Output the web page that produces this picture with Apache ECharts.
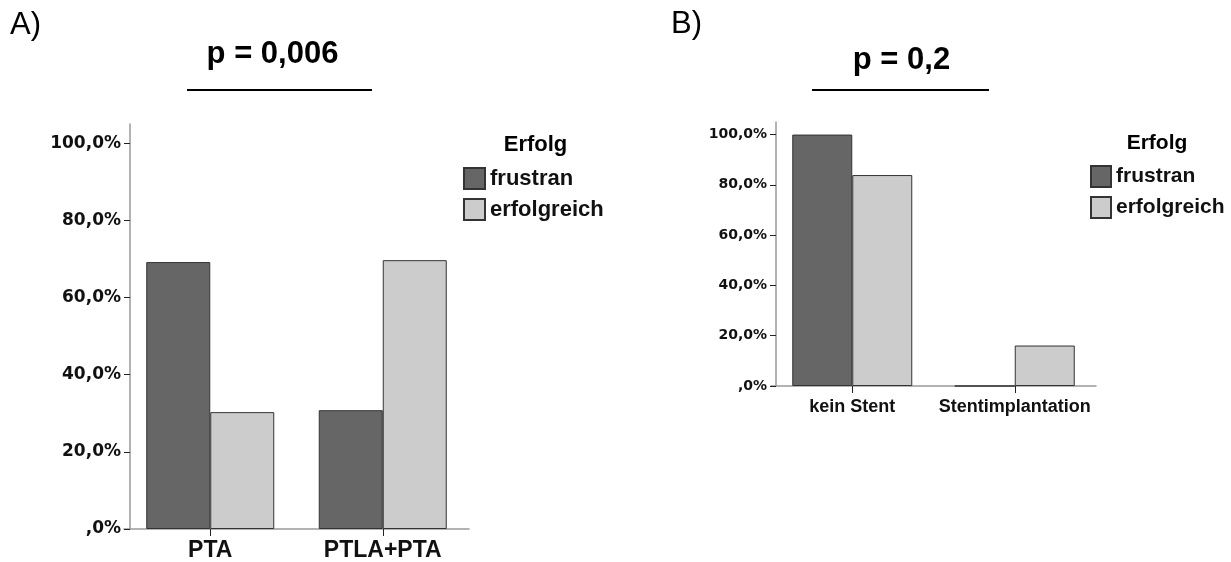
<!DOCTYPE html>
<html>
<head>
<meta charset="utf-8">
<script src="https://cdn.jsdelivr.net/npm/echarts@6/dist/echarts.min.js"></script>
<style>
html,body{margin:0;padding:0;background:#fff;}
#chart{width:1231px;height:562px;}
</style>
</head>
<body>
<div id="chart"></div>
<script>
// ---- data ----
var catsA = ['PTA', 'PTLA+PTA'];
var frustranA = [69.2, 30.8];
var erfolgreichA = [30.3, 69.7];
var catsB = ['kein Stent', 'Stentimplantation'];
var frustranB = [100, 0];
var erfolgreichB = [83.9, 16.1];
var yTicks = [0, 20, 40, 60, 80, 100];
var yTickLabels = [',0%', '20,0%', '40,0%', '60,0%', '80,0%', '100,0%'];
var seriesNames = ['frustran', 'erfolgreich'];
var legendTitle = 'Erfolg';
var panelLabels = ['A)', 'B)'];
var pTitles = ['p = 0,006', 'p = 0,2'];

var DARK = '#666666', LIGHT = '#cccccc', EDGE = '#333333', AXIS = '#9a9a9a';
var SANS = '"Liberation Sans", Arial, sans-serif';
var WIDE = '"DejaVu Sans", sans-serif';

function tickLabel(v) {
  var i = yTicks.indexOf(v);
  return i >= 0 ? yTickLabels[i] : '';
}

function yAxisCfg(gridIndex, fs, offset) {
  return {
    type: 'value', gridIndex: gridIndex, min: 0, max: 105, offset: offset,
    axisLine: {show: true, lineStyle: {color: AXIS, width: 1.5}},
    axisTick: {show: true, length: 6, lineStyle: {color: '#222', width: 1}, customValues: yTicks},
    axisLabel: {customValues: yTicks, formatter: tickLabel, margin: 9,
      fontFamily: WIDE, fontWeight: 'bold', fontSize: fs, color: '#111'},
    splitLine: {show: false}
  };
}
function xAxisCfg(gridIndex, data, fs, margin) {
  return {
    type: 'category', gridIndex: gridIndex, data: data,
    axisLine: {show: true, lineStyle: {color: AXIS, width: 1.5}},
    axisTick: {show: true, alignWithLabel: true, length: 7, lineStyle: {color: '#222', width: 1}},
    axisLabel: {interval: 0, hideOverlap: false, margin: margin, fontFamily: SANS, fontWeight: 'bold', fontSize: fs, color: '#111'},
    splitLine: {show: false}
  };
}
function bar(name, data, color, xi, bw) {
  return {
    type: 'bar', name: name, data: data, xAxisIndex: xi, yAxisIndex: xi,
    barWidth: bw, barGap: '0%',
    itemStyle: {color: color, borderColor: EDGE, borderWidth: 1},
    emphasis: {disabled: true}, animation: false
  };
}
function legendCfg(left, top, w, h, fs) {
  return {
    orient: 'vertical', left: left, top: top, padding: 0,
    itemWidth: w, itemHeight: h, itemGap: 8, selectedMode: false,
    icon: 'rect', data: seriesNames,
    textStyle: {fontFamily: SANS, fontWeight: 'bold', fontSize: fs, color: '#111', lineHeight: h}
  };
}
function txt(x, y, s, fs, weight, align) {
  return {type: 'text', x: x, y: y, style: {text: s, fontFamily: SANS, fontSize: fs, fontWeight: weight,
    fill: '#000', textAlign: align, textVerticalAlign: 'middle'}};
}

var chart = echarts.init(document.getElementById('chart'), null, {renderer: 'canvas'});
chart.setOption({
  backgroundColor: '#fff',
  animation: false,
  grid: [
    {left: 124, top: 124, width: 345, height: 405, outerBoundsMode: 'none'},
    {left: 771, top: 122, width: 325, height: 264, outerBoundsMode: 'none'}
  ],
  xAxis: [xAxisCfg(0, catsA, 23, 10), xAxisCfg(1, catsB, 18, 12)],
  yAxis: [yAxisCfg(0, 17, -6), yAxisCfg(1, 14, -5)],
  legend: [legendCfg(463, 167, 21, 21, 22), legendCfg(1090, 165, 20, 21, 21)],
  series: [
    bar(seriesNames[0], frustranA, DARK, 0, 64),
    bar(seriesNames[1], erfolgreichA, LIGHT, 0, 64),
    bar(seriesNames[0], frustranB, DARK, 1, 60),
    bar(seriesNames[1], erfolgreichB, LIGHT, 1, 60)
  ],
  graphic: [
    txt(10, 25, panelLabels[0], 31, 'normal', 'left'),
    txt(671, 24, panelLabels[1], 31, 'normal', 'left'),
    txt(272.5, 54, pTitles[0], 31, 'bold', 'center'),
    txt(901.5, 60, pTitles[1], 31, 'bold', 'center'),
    {type: 'line', shape: {x1: 187, y1: 90, x2: 372, y2: 90}, style: {stroke: '#000', lineWidth: 2}},
    {type: 'line', shape: {x1: 812, y1: 90, x2: 989, y2: 90}, style: {stroke: '#000', lineWidth: 2}},
    txt(535.5, 145, legendTitle, 22, 'bold', 'center'),
    txt(1157, 143, legendTitle, 21, 'bold', 'center')
  ]
});
</script>
</body>
</html>
